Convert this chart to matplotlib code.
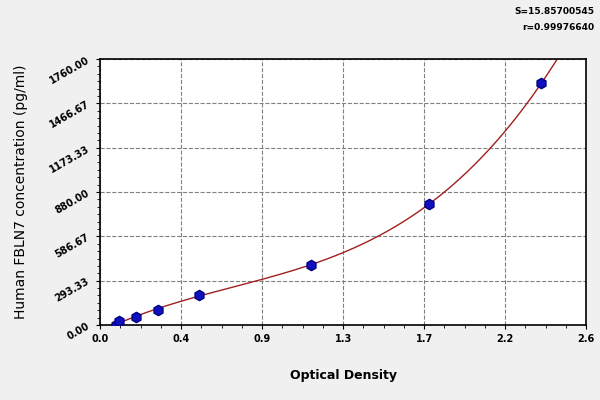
import numpy as np
import matplotlib
matplotlib.use("Agg")
import matplotlib.pyplot as plt
from matplotlib.ticker import AutoMinorLocator

# standard points
od = [0.084, 0.10, 0.19, 0.31, 0.53, 1.13, 1.76, 2.36]
conc = [0, 25, 50, 100, 200, 400, 800, 1600]
x_ticks = [0.0, 0.4333, 0.8667, 1.3, 1.7333, 2.1667, 2.6]
x_labels = ["0.0", "0.4", "0.9", "1.3", "1.7", "2.2", "2.6"]
y_ticks = [0, 293.33, 586.67, 880.0, 1173.33, 1466.67, 1760.0]
y_labels = ["0.00", "293.33", "586.67", "880.00", "1173.33", "1466.67", "1760.00"]

fig = plt.figure(figsize=(6, 4), dpi=100, facecolor="#f0f0f0")
ax = fig.add_axes([0.167, 0.1875, 0.81, 0.665])

# fitted curve through the standards
coef = np.polyfit(od, conc, 3)
xs = np.linspace(od[0], 2.6, 400)
ys = np.polyval(coef, xs)
keep = ys <= 1760
ax.plot(xs[keep], ys[keep], color="#a02020", linewidth=1)
ax.scatter(od, conc, s=55, marker="h", color="#1010c0", edgecolor="#000080", zorder=3)

ax.set_xlim(0, 2.6)
ax.set_ylim(0, 1760)
ax.set_xticks(x_ticks)
ax.set_xticklabels(x_labels, fontsize=7, fontweight="bold")
ax.set_yticks(y_ticks)
ax.set_yticklabels(y_labels, fontsize=7, fontweight="bold", rotation=30)
ax.xaxis.set_minor_locator(AutoMinorLocator(4))
ax.yaxis.set_minor_locator(AutoMinorLocator(6))
ax.grid(True, linestyle="--", color="#808080", linewidth=0.8)
ax.tick_params(direction="out", length=3)
for s in ax.spines.values():
    s.set_linewidth(1.2)

ax.set_xlabel("Optical Density", fontsize=9, fontweight="bold", labelpad=18)
ax.set_ylabel("Human FBLN7 concentration (pg/ml)", fontsize=10, labelpad=14)
fig.text(0.99, 0.965, "S=15.85700545", ha="right", fontsize=6.5, fontweight="bold")
fig.text(0.99, 0.925, "r=0.99976640", ha="right", fontsize=6.5, fontweight="bold")

fig.savefig("out.png", facecolor=fig.get_facecolor())
